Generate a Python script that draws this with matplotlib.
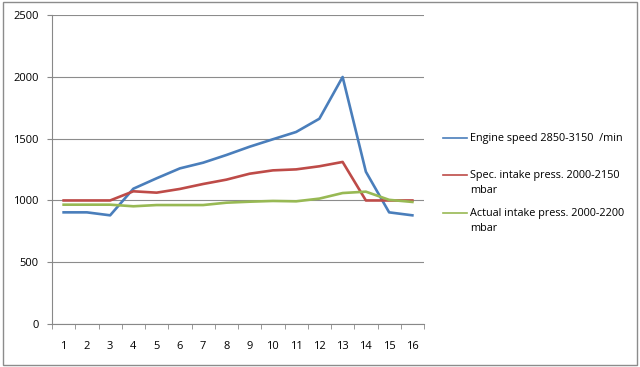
import matplotlib
matplotlib.use('Agg')
import matplotlib.pyplot as plt
from matplotlib.lines import Line2D
from matplotlib.patches import Rectangle

# data
samples = list(range(1, 17))
engine_speed = [904, 904, 880, 1095, 1179, 1259, 1305, 1367, 1434, 1494,
                1553, 1660, 1997, 1232, 904, 880]
spec_press = [1000, 1000, 1000, 1074, 1063, 1093, 1133, 1168, 1216, 1243,
              1251, 1276, 1311, 1000, 1000, 1000]
actual_press = [966, 966, 966, 953, 963, 963, 963, 982, 990, 996,
                993, 1015, 1060, 1071, 1005, 988]
labels = ['Engine speed 2850-3150  /min',
          'Spec. intake press. 2000-2150\nmbar',
          'Actual intake press. 2000-2200\nmbar']
colors = ['#4a7ebb', '#be4b48', '#98b954']
yticks = [0, 500, 1000, 1500, 2000, 2500]

plt.rcParams['font.family'] = ['Open Sans', 'DejaVu Sans']

fig = plt.figure(figsize=(6.4, 3.67), dpi=100)
ax = fig.add_axes([0.08125, 0.1163, 0.58125, 0.8437])

series = [engine_speed, spec_press, actual_press]
for vals, c in zip(series, colors):
    ax.plot(samples, vals, color=c, linewidth=1.9, solid_joinstyle='round')

ax.set_xlim(0.5, 16.5)
ax.set_ylim(0, 2500)
ax.set_yticks(yticks)
ax.set_xticks(samples)
ax.set_xticks([x + 0.5 for x in range(0, 17)], minor=True)
ax.tick_params(axis='x', which='major', length=0, pad=12, labelsize=8)
ax.tick_params(axis='x', which='minor', length=3.5, color='#888888', direction='out')
ax.tick_params(axis='y', length=3.5, color='#888888', labelsize=8, pad=6)
ax.grid(axis='y', color='#8c8c8c', linewidth=0.8)
ax.set_axisbelow(True)
for s in ['top', 'right']:
    ax.spines[s].set_visible(False)
for s in ['left', 'bottom']:
    ax.spines[s].set_color('#888888')
    ax.spines[s].set_linewidth(0.8)

# legend drawn by hand to mimic the spreadsheet layout
leg_y = [1 - 137.7 / 367, 1 - 175.3 / 367, 1 - 213 / 367]
x0, x1, xt = 443 / 640, 467 / 640, 470 / 640
for c, lab, y in zip(colors, labels, leg_y):
    fig.add_artist(Line2D([x0, x1], [y, y], color=c, linewidth=1.2,
                          transform=fig.transFigure))
    fig.text(xt, y + 0.014, lab, fontsize=7.8, va='top', ha='left',
             linespacing=1.5)

fig.add_artist(Rectangle((0.004, 0.005), 0.992, 0.99, transform=fig.transFigure,
                         fill=False, edgecolor='#8c8c8c', linewidth=1.0))

fig.savefig('out.png', dpi=100)
